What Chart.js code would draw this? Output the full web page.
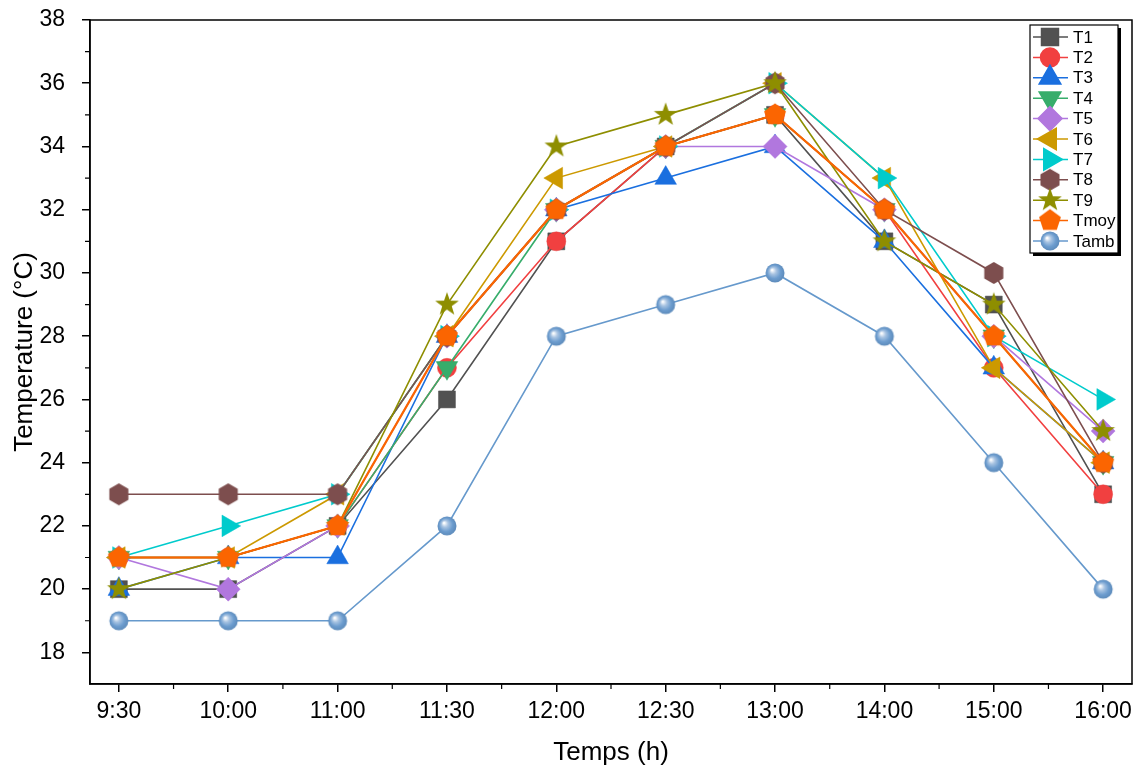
<!DOCTYPE html>
<html>
<head>
<meta charset="utf-8">
<title>Temperature</title>
<script src="https://cdn.jsdelivr.net/npm/chart.js@4"></script>
<style>
  body { margin: 0; background: #fff; }
  #wrap { width: 1145px; height: 776px; }
</style>
</head>
<body>
<div id="wrap"><canvas id="tempChart" width="1145" height="776"></canvas></div>
<script>
// Data
const times = ['9:30', '10:00', '11:00', '11:30', '12:00', '12:30', '13:00', '14:00', '15:00', '16:00'];
const T1 = [20, 20, 22, 26, 31, 34, 35, 31, 29, 23];
const T2 = [21, 21, 22, 27, 31, 34, 35, 32, 27, 23];
const T3 = [20, 21, 21, 28, 32, 33, 34, 31, 27, 24];
const T4 = [21, 21, 22, 27, 32, 34, 35, 32, 28, 24];
const T5 = [21, 20, 22, 28, 32, 34, 34, 32, 28, 25];
const T6 = [21, 21, 23, 28, 33, 34, 36, 33, 27, 24];
const T7 = [21, 22, 23, 28, 32, 34, 36, 33, 28, 26];
const T8 = [23, 23, 23, 28, 32, 34, 36, 32, 30, 24];
const T9 = [20, 21, 22, 29, 34, 35, 36, 31, 29, 25];
const Tmoy = [21, 21, 22, 28, 32, 34, 35, 32, 28, 24];
const Tamb = [19, 19, 19, 22, 28, 29, 30, 28, 24, 20];
const yTicks = [18, 20, 22, 24, 26, 28, 30, 32, 34, 36, 38];
const yMinorTicks = [19, 21, 23, 25, 27, 29, 31, 33, 35, 37];

// Custom marker images
function makeMarker(draw) {
    const c = document.createElement('canvas');
    c.width = 28; c.height = 28;
    const g = c.getContext('2d');
    g.translate(14, 14);
    draw(g);
    return c;
}
function polygon(g, n, r, start, color) {
    g.beginPath();
    for (let i = 0; i < n; i++) {
        const a = start + i * 2 * Math.PI / n;
        g.lineTo(r * Math.cos(a), r * Math.sin(a));
    }
    g.closePath();
    g.fillStyle = color;
    g.fill();
}
const hexagon = makeMarker(g => polygon(g, 6, 11, -Math.PI / 2, '#7d4e4e'));
const pentagon = makeMarker(g => polygon(g, 5, 11.5, -Math.PI / 2, '#fb6501'));
const star = makeMarker(g => {
    g.beginPath();
    for (let i = 0; i < 10; i++) {
        const r = i % 2 === 0 ? 12.5 : 5;
        const a = -Math.PI / 2 + i * Math.PI / 5;
        g.lineTo(r * Math.cos(a), r * Math.sin(a));
    }
    g.closePath();
    g.fillStyle = '#8e8e00';
    g.fill();
});
const sphere = makeMarker(g => {
    const grad = g.createRadialGradient(-3, -3, 0.5, 0, 0, 10);
    grad.addColorStop(0, '#ffffff');
    grad.addColorStop(0.3, '#a9c4e2');
    grad.addColorStop(0.65, '#6d9dcf');
    grad.addColorStop(1, '#5a88b8');
    g.beginPath();
    g.arc(0, 0, 9.5, 0, Math.PI * 2);
    g.fillStyle = grad;
    g.fill();
});

const series = [
    { label: 'T1', values: T1, color: '#515151', style: 'rect', radius: 12, rotation: 0 },
    { label: 'T2', values: T2, color: '#f14040', style: 'circle', radius: 9.5, rotation: 0 },
    { label: 'T3', values: T3, color: '#1a6fdf', style: 'triangle', radius: 12.5, rotation: 0 },
    { label: 'T4', values: T4, color: '#37ad6b', style: 'triangle', radius: 12.5, rotation: 180 },
    { label: 'T5', values: T5, color: '#b177de', style: 'rectRot', radius: 12, rotation: 0 },
    { label: 'T6', values: T6, color: '#cc9900', style: 'triangle', radius: 12.5, rotation: 270 },
    { label: 'T7', values: T7, color: '#00cbcc', style: 'triangle', radius: 12.5, rotation: 90 },
    { label: 'T8', values: T8, color: '#7d4e4e', style: hexagon, radius: 11, rotation: 0 },
    { label: 'T9', values: T9, color: '#8e8e00', style: star, radius: 12, rotation: 0 },
    { label: 'Tmoy', values: Tmoy, color: '#fb6501', style: pentagon, radius: 11, rotation: 0 },
    { label: 'Tamb', values: Tamb, color: '#6699cc', style: sphere, radius: 10, rotation: 0 }
];

const datasets = series.map((s, i) => ({
    label: s.label,
    data: s.values.map((v, k) => ({ x: k, y: v })),
    borderColor: s.color,
    backgroundColor: s.color,
    borderWidth: s.label === 'Tmoy' ? 2.2 : 1.6,
    pointStyle: s.style,
    pointRadius: s.radius,
    pointRotation: s.rotation,
    pointBorderWidth: 0.5,
    pointBorderColor: s.color,
    pointBackgroundColor: s.color,
    tension: 0,
    order: series.length - i
}));

// Frame, minor ticks and legend box
const extras = {
    id: 'extras',
    afterDraw(chart) {
        const { ctx, chartArea: a, scales: { x, y } } = chart;
        ctx.save();
        ctx.strokeStyle = '#000';
        ctx.lineWidth = 1.5;
        ctx.strokeRect(a.left, a.top, a.right - a.left, a.bottom - a.top);

        ctx.lineWidth = 1.2;
        ctx.beginPath();
        for (let i = 0; i < times.length - 1; i++) {
            const px = x.getPixelForValue(i + 0.5);
            ctx.moveTo(px, a.bottom);
            ctx.lineTo(px, a.bottom + 5);
        }
        yMinorTicks.forEach(v => {
            const py = y.getPixelForValue(v);
            ctx.moveTo(a.left, py);
            ctx.lineTo(a.left - 5, py);
        });
        ctx.stroke();

        // Legend
        const lx = 1030, ly = 25, lw = 88, lh = 228;
        ctx.fillStyle = '#000';
        ctx.fillRect(lx + 3, ly + 3, lw, lh);
        ctx.fillStyle = '#fff';
        ctx.fillRect(lx, ly, lw, lh);
        ctx.lineWidth = 1.2;
        ctx.strokeRect(lx, ly, lw, lh);

        ctx.font = '17px "Liberation Sans", Arial, sans-serif';
        ctx.textBaseline = 'middle';
        ctx.textAlign = 'left';
        series.forEach((s, i) => {
            const cy = ly + 12 + i * 20.4;
            ctx.strokeStyle = s.color;
            ctx.lineWidth = 1.5;
            ctx.beginPath();
            ctx.moveTo(lx + 3, cy);
            ctx.lineTo(lx + 38, cy);
            ctx.stroke();
            ctx.fillStyle = s.color;
            Chart.helpers.drawPoint(ctx, {
                pointStyle: s.style,
                rotation: s.rotation,
                radius: s.radius,
                borderWidth: 0.5
            }, lx + 20, cy);
            ctx.fillStyle = '#000';
            ctx.fillText(s.label, lx + 43, cy + 1);
        });
        ctx.restore();
    }
};

const tickFont = { family: '"Liberation Sans", Arial, sans-serif', size: 23 };
const titleFont = { family: '"Liberation Sans", Arial, sans-serif', size: 26 };

new Chart(document.getElementById('tempChart').getContext('2d'), {
    type: 'line',
    data: { datasets: datasets },
    options: {
        responsive: false,
        animation: false,
        layout: { padding: { top: 20, right: 10, left: 0, bottom: 0 } },
        plugins: {
            legend: { display: false },
            tooltip: { enabled: false }
        },
        scales: {
            x: {
                type: 'linear',
                min: -0.264,
                max: times.length - 1 + 0.264,
                afterBuildTicks: scale => { scale.ticks = times.map((t, i) => ({ value: i })); },
                afterFit: scale => { scale.height = 92; scale.paddingLeft = 0; scale.paddingRight = 0; },
                ticks: {
                    callback: v => times[v],
                    color: '#000',
                    font: tickFont,
                    padding: 6,
                    maxRotation: 0,
                    autoSkip: false
                },
                grid: { drawOnChartArea: false, tickLength: 8, color: '#000', lineWidth: 1.5 },
                border: { display: true, color: '#000', width: 1.5 },
                title: { display: true, text: 'Temps (h)', color: '#000', font: titleFont, padding: { top: 0, bottom: 8 } }
            },
            y: {
                min: 17,
                max: 38,
                afterBuildTicks: scale => { scale.ticks = yTicks.map(v => ({ value: v })); },
                afterFit: scale => { scale.width = 90; scale.paddingTop = 0; scale.paddingBottom = 0; },
                ticks: { color: '#000', font: tickFont, padding: 17 },
                grid: { drawOnChartArea: false, tickLength: 8, color: '#000', lineWidth: 1.5 },
                border: { display: true, color: '#000', width: 1.5 },
                title: { display: true, text: 'Temperature (°C)', color: '#000', font: titleFont, padding: { top: 9, bottom: 0 } }
            }
        }
    },
    plugins: [extras]
});
</script>
</body>
</html>
